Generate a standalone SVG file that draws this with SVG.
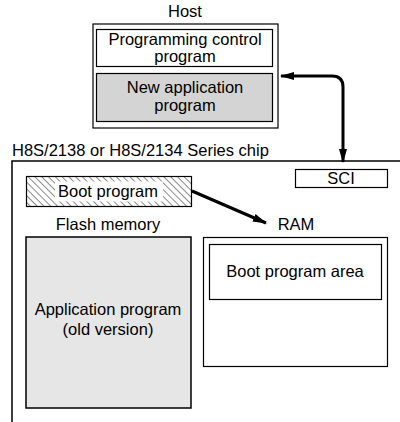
<svg xmlns="http://www.w3.org/2000/svg" width="400" height="422" viewBox="0 0 400 422">
<defs>
<style>
text{font-family:"Liberation Sans",Arial,sans-serif;font-size:16.5px;fill:#000}
.c{text-anchor:middle}
.box{fill:#fff;stroke:#000;stroke-width:1.2}
.conn{fill:none;stroke:#000;stroke-width:3}
</style>
<pattern id="hatch" patternUnits="userSpaceOnUse" width="4.8" height="4.8" patternTransform="rotate(-45)">
<line x1="0" y1="0" x2="0" y2="4.8" stroke="#000" stroke-width="0.9"/>
</pattern>
<marker id="ah" viewBox="0 0 14 8" refX="13" refY="4" markerWidth="4.7" markerHeight="2.7" orient="auto-start-reverse" markerUnits="strokeWidth">
<path d="M0,0 L14,4 L0,8 z" fill="#000"/>
</marker>
</defs>
<rect width="400" height="422" fill="#fff"/>
<g id="host">
<text class="c" x="185" y="17">Host</text>
<rect class="box" x="93" y="24" width="185" height="104" stroke-width="1.5"/>
</g>
<g id="prog-control">
<rect class="box" x="96.5" y="29.5" width="176" height="37"/>
<text class="c" x="185" y="45">Programming control</text>
<text class="c" x="185" y="62">program</text>
</g>
<g id="new-app">
<rect class="box" x="96.5" y="73.5" width="176" height="48" style="fill:#d4d4d4"/>
<text class="c" x="185" y="93">New application</text>
<text class="c" x="185" y="111">program</text>
</g>
<g id="chip">
<path d="M12,422 V161 H400" fill="none" stroke="#000" stroke-width="1.5"/>
<text x="12" y="156">H8S/2138 or H8S/2134 Series chip</text>
</g>
<g id="sci">
<rect class="box" x="295.5" y="169.5" width="92" height="18"/>
<text class="c" x="341" y="184">SCI</text>
</g>
<g id="boot">
<rect x="26.5" y="176.5" width="165" height="30" fill="url(#hatch)" stroke="#000" stroke-width="1.2"/>
<rect x="55" y="181.5" width="108" height="20" fill="#fff"/>
<text class="c" x="108" y="197">Boot program</text>
</g>
<g id="flash">
<text class="c" x="108" y="230">Flash memory</text>
<rect class="box" x="26" y="237" width="165" height="171" style="fill:#e6e6e6;stroke-width:1.5"/>
<text class="c" x="108" y="315">Application program</text>
<text class="c" x="108" y="335">(old version)</text>
</g>
<g id="ram">
<text class="c" x="296" y="230">RAM</text>
<rect class="box" x="203.5" y="237.5" width="184" height="129"/>
</g>
<g id="boot-area">
<rect class="box" x="209.5" y="244.5" width="172" height="55"/>
<text class="c" x="295" y="277">Boot program area</text>
</g>
<g id="connectors">
<path class="conn" d="M343,162 V87 Q343,76 332,76 H281" marker-start="url(#ah)" marker-end="url(#ah)"/>
<path class="conn" d="M192,191 L266,223" marker-end="url(#ah)"/>
</g>
</svg>
